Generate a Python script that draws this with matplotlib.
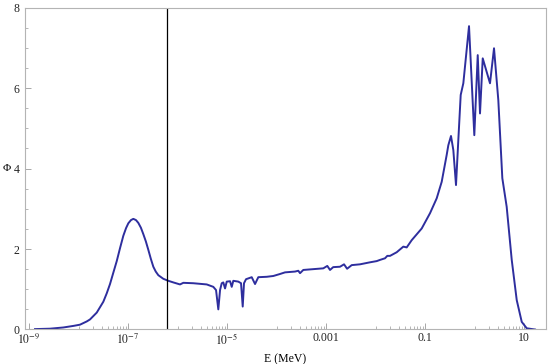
import numpy as np
import matplotlib
matplotlib.use("Agg")
import matplotlib.pyplot as plt
from matplotlib.ticker import FixedLocator, NullFormatter, FixedFormatter

# log10 of energy (MeV)
log_e = [
    -8.879, -8.576, -8.307, -8.100, -7.970, -7.834, -7.768, -7.632, -7.499,
    -7.430, -7.364, -7.300, -7.228, -7.160, -7.095, -7.040, -6.994, -6.940,
    -6.893, -6.840, -6.792, -6.740, -6.691, -6.640, -6.590, -6.540, -6.489,
    -6.440, -6.388, -6.287, -6.186, -6.085,
    -5.950, -5.883, -5.681, -5.410, -5.277, -5.222, -5.176, -5.141,
    -5.107, -5.075, -5.040, -5.006, -4.939, -4.905, -4.873, -4.772, -4.717,
    -4.683, -4.657, -4.616, -4.501, -4.434, -4.368, -4.198, -4.065, -3.929,
    -3.828, -3.626, -3.560, -3.525, -3.459, -3.257, -3.055, -2.974, -2.919,
    -2.855, -2.717, -2.636, -2.574, -2.481, -2.313, -2.111, -1.976, -1.909,
    -1.808, -1.762, -1.707, -1.572, -1.438, -1.370, -1.269, -1.067, -0.899,
    -0.764, -0.663, -0.562, -0.529, -0.475, -0.428, -0.374, -0.327, -0.279,
    -0.226, -0.111, -0.004, 0.065, 0.111, 0.166, 0.313, 0.394, 0.481,
    0.562, 0.650, 0.752, 0.853, 0.954, 1.055, 1.222,
]
# flux Phi
phi = [
    0.01, 0.02, 0.05, 0.09, 0.12, 0.20, 0.25, 0.42, 0.69,
    0.90, 1.13, 1.40, 1.70, 2.03, 2.33, 2.52, 2.64, 2.72,
    2.75, 2.72, 2.65, 2.53, 2.37, 2.19, 1.98, 1.76, 1.56,
    1.44, 1.35, 1.26, 1.21, 1.17,
    1.12, 1.16, 1.15, 1.12, 1.06, 0.98, 0.50, 0.98,
    1.15, 1.17, 1.02, 1.19, 1.20, 1.06, 1.21, 1.19, 1.15,
    0.57, 1.15, 1.25, 1.30, 1.13, 1.30, 1.31, 1.33, 1.38,
    1.42, 1.44, 1.46, 1.40, 1.48, 1.50, 1.52, 1.58, 1.48,
    1.55, 1.56, 1.62, 1.51, 1.60, 1.62, 1.67, 1.70, 1.73,
    1.77, 1.83, 1.83, 1.92, 2.06, 2.04, 2.22, 2.51, 2.89,
    3.26, 3.67, 4.34, 4.58, 4.81, 4.46, 3.59, 4.71, 5.83,
    6.12, 7.54, 4.83, 6.82, 5.37, 6.74, 6.12, 6.99, 5.70,
    3.76, 3.05, 1.73, 0.73, 0.19, 0.03, 0.00,
]
cd_cutoff = 6.25e-7  # MeV

x_major = [1e-9, 1e-7, 1e-5, 1e-3, 1e-1, 10]
x_labels = ["$10^{-9}$", "$10^{-7}$", "$10^{-5}$", "0.001", "0.1", "10"]

plt.rcParams["font.family"] = ["Liberation Serif", "DejaVu Serif"]
plt.rcParams["mathtext.fontset"] = "stix"

energy = 10.0 ** np.array(log_e)

fig = plt.figure(figsize=(5.5, 3.64), dpi=100)
ax = fig.add_axes([0.0455, 0.0948, 0.9472, 0.8842])

ax.plot(energy, phi, color="#2e2e9e", lw=1.4)
ax.axvline(cd_cutoff, color="black", lw=0.9)

ax.set_xscale("log")
ax.set_xlim(10 ** -9.081, 10 ** 1.444)
ax.set_ylim(0, 8)

# minor ticks only in the decade just below each labelled one
minors = []
for m in x_major[1:]:
    minors += [m / 10 * k for k in range(1, 10)]
ax.xaxis.set_major_locator(FixedLocator(x_major))
ax.xaxis.set_major_formatter(FixedFormatter(x_labels))
ax.xaxis.set_minor_locator(FixedLocator(minors))
ax.xaxis.set_minor_formatter(NullFormatter())
ax.set_yticks([0, 2, 4, 6, 8])
ax.set_yticks(np.arange(0, 8.01, 0.5), minor=True)

for s in ax.spines.values():
    s.set_color("#b4b4b4")
    s.set_linewidth(0.8)
ax.tick_params(which="both", direction="in", color="#999999", labelsize=8.5,
               labelcolor="#222222", top=False, right=False)
ax.tick_params(which="major", length=4, width=0.6)
ax.tick_params(axis="x", which="major", pad=2)
ax.tick_params(axis="y", which="major", pad=4)
ax.tick_params(which="minor", length=2.2, width=0.5)

ax.set_xlabel("E (MeV)", fontsize=8.5, labelpad=4)
ax.set_ylabel("Φ", fontsize=8, rotation=0, va="center", ha="center")
ax.yaxis.set_label_coords(-0.035, 0.5)

fig.savefig("out.png", dpi=100)
